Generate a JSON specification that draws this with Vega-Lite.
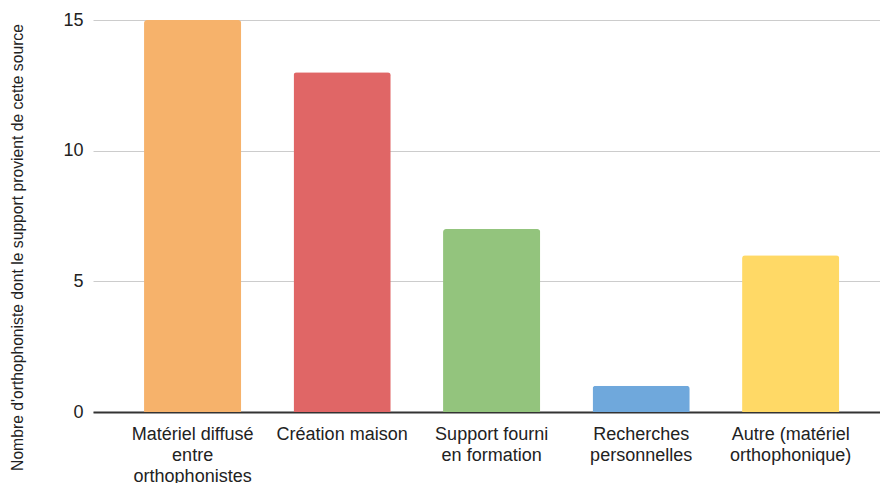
{
  "$schema": "https://vega.github.io/schema/vega-lite/v6.json",
  "autosize": "none",
  "width": 787,
  "height": 392,
  "padding": {"left": 93, "top": 20, "right": 0, "bottom": 71},
  "background": "white",
  "config": {"view": {"stroke": null}, "font": "Liberation Sans"},
  "data": {"values": [
    {"source": "Matériel diffusé\nentre\northophonistes", "count": 15, "color": "#f6b26b"},
    {"source": "Création maison", "count": 13, "color": "#e06666"},
    {"source": "Support fourni\nen formation", "count": 7, "color": "#93c47d"},
    {"source": "Recherches\npersonnelles", "count": 1, "color": "#6fa8dc"},
    {"source": "Autre (matériel\northophonique)", "count": 6, "color": "#ffd966"}
  ]},
  "mark": {"type": "bar", "cornerRadiusTopLeft": 3, "cornerRadiusTopRight": 3},
  "encoding": {
    "x": {
      "field": "source", "type": "nominal", "sort": null,
      "scale": {"paddingInner": 0.35, "paddingOuter": 0.307, "align": 0.556},
      "axis": {
        "title": null, "labelAngle": 0, "ticks": false,
        "labelExpr": "split(datum.label, '\\n')",
        "labelFontSize": 18, "labelColor": "#222222", "labelLineHeight": 21,
        "labelPadding": 13, "labelBaseline": "top",
        "domainColor": "#333333", "domainWidth": 2,
        "labelLimit": 250
      }
    },
    "y": {
      "field": "count", "type": "quantitative",
      "scale": {"domain": [0, 15], "nice": false},
      "axis": {
        "values": [0, 5, 10, 15], "domain": false, "ticks": false,
        "gridColor": "#cccccc", "gridWidth": 1,
        "labelFontSize": 18, "labelColor": "#222222", "labelPadding": 10,
        "title": "Nombre d'orthophoniste dont le support provient de cette source",
        "titleFontSize": 15.7, "titleFontWeight": "normal", "titleColor": "#222222",
        "titleX": -68, "titleY": 227, "titleAngle": -90, "titleAlign": "center", "titleBaseline": "bottom"
      }
    },
    "color": {"field": "color", "type": "nominal", "scale": null}
  }
}
